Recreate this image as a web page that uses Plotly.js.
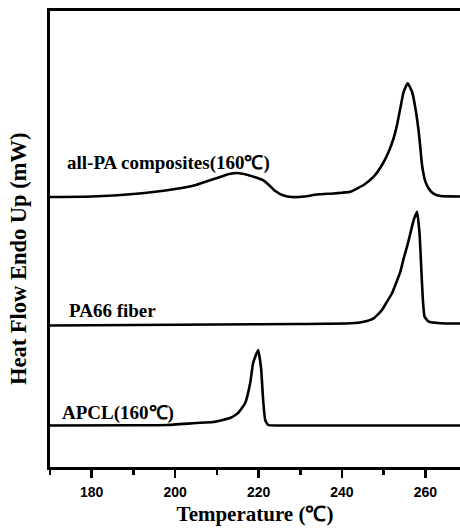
<!DOCTYPE html>
<html>
<head>
<meta charset="utf-8">
<script src="https://cdn.plot.ly/plotly-3.0.1.min.js"></script>
<style>html,body{margin:0;padding:0;background:#fff;}#chart{width:460px;height:528px;}</style>
</head>
<body>
<div id="chart"></div>
<script>
// Temperature (°C) and heat flow (arbitrary offset units, endo up)
const compositeT = [170,180,190,200,205,210,213,215,217,219,221,222.5,224,226,228,231,234,238,240,242,245.2,247.6,249.6,251.2,252.4,253.2,254.0,254.8,255.75,256.8,257.6,258.4,258.8,259.2,260.0,260.8,261.6,262.6,263.6,265.5,268.3];
const compositeHF = [270,270.5,273,278,282,289,293,294,292.5,290,287,282,276,271.5,270,270.5,272.5,273.5,274.3,275.3,282,290.3,302,315.3,329,342,359,375.3,383.7,375.3,359,335.3,319,302,285.3,278.5,274.5,272,271,270.6,270.5];

const fiberT = [170,190,210,230,242,245.2,247.6,249.6,250.8,252.0,252.8,254.0,254.8,255.6,256.4,257.2,258.0,258.6,259.0,259.4,259.8,260.8,263.6,268.3];
const fiberHF = [141.5,142,142.5,143,143.7,145.3,148.7,157,165.3,173.7,182,195.3,208.7,220.3,233.7,247,255.3,233.7,200.3,167,150.3,145.3,143.7,143.5];

const apclT = [170,190,198,205,209.1,213.2,215.1,216.8,218,218.7,219.9,220.6,221.1,221.6,222.3,225,268.3];
const apclHF = [41.5,41.7,42,44,45,49,54,64,84,104,117,99,67,47,42,41.5,41.5];

const labels = ["all-PA composites(160℃)", "PA66 fiber", "APCL(160℃)"];
const labelT = [173.6, 174.1, 172.4];
const labelHF = [304, 157, 54];

const lineStyle = {color:'#000', width:2.6, shape:'spline', smoothing:0.4};
const traces = [
  {x:compositeT, y:compositeHF, mode:'lines', line:lineStyle, name:labels[0]},
  {x:fiberT, y:fiberHF, mode:'lines', line:lineStyle, name:labels[1]},
  {x:apclT, y:apclHF, mode:'lines', line:lineStyle, name:labels[2]}
];

const serifBold = {family:'"Liberation Serif", "Times New Roman", serif', size:19, color:'#000', weight:'bold'};

const layout = {
  width:460, height:528,
  margin:{l:50, r:0, t:11, b:61},
  paper_bgcolor:'#fff', plot_bgcolor:'#fff',
  showlegend:false,
  xaxis:{
    range:[170,268.3], dtick:20, tick0:180,
    showline:true, linecolor:'#000', linewidth:3, mirror:true,
    ticks:'outside', ticklen:8, tickwidth:2.5, tickcolor:'#000',
    ticklabelstandoff:2,
    minor:{dtick:10, tick0:170, ticks:'outside', ticklen:5, tickwidth:2.5, tickcolor:'#000'},
    showgrid:false, zeroline:false,
    tickfont:{family:'"Liberation Sans", Arial, sans-serif', size:14, color:'#000', weight:'bold'},
    title:{text:'Temperature (℃)', font:{family:'"Liberation Serif", "Times New Roman", serif', size:21, color:'#000', weight:'bold'}, standoff:8}
  },
  yaxis:{
    range:[0,456],
    showline:true, linecolor:'#000', linewidth:3,
    showticklabels:false, ticks:'', showgrid:false, zeroline:false
  },
  annotations: labels.map((t,i)=>({
    x:labelT[i], y:labelHF[i], xref:'x', yref:'y', text:t, showarrow:false,
    xanchor:'left', yanchor:'middle', font:serifBold
  })).concat([{
    text:'Heat Flow Endo Up (mW)', xref:'paper', yref:'paper', x:-0.078, y:0.456,
    xanchor:'center', yanchor:'middle', textangle:-90, showarrow:false,
    font:{family:'"Liberation Serif", "Times New Roman", serif', size:22.5, color:'#000', weight:'bold'}
  }])
};

Plotly.newPlot('chart', traces, layout, {staticPlot:true, displayModeBar:false});
</script>
</body>
</html>
